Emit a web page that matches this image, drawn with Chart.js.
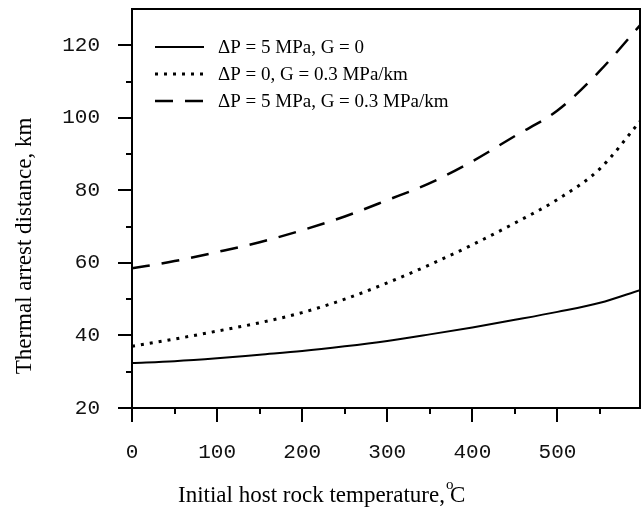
<!DOCTYPE html>
<html>
<head>
<meta charset="utf-8">
<script src="https://cdn.jsdelivr.net/npm/chart.js@4.4.0/dist/chart.umd.min.js"></script>
<style>
  body { margin: 0; background: #fff; }
  #wrap { width: 643px; height: 511px; }
</style>
</head>
<body>
<div id="wrap"><canvas id="chartArrest" width="643" height="511"></canvas></div>
<script>
// temperatures (deg C) where values were read
const temps = [0, 50, 100, 150, 200, 250, 300, 350, 400, 450, 500, 550, 597];

// thermal arrest distance, km
const solidP5G0 = [32.4, 32.9, 33.7, 34.7, 35.7, 37.0, 38.5, 40.3, 42.2, 44.3, 46.5, 49.0, 52.5];
const dotP0G03 = [37.0, 39.0, 41.2, 43.5, 46.3, 50.0, 54.5, 59.5, 65.0, 71.0, 77.5, 86.0, 99.0];
const dashP5G03 = [58.5, 60.5, 63.0, 65.7, 69.0, 72.8, 77.3, 82.0, 88.0, 95.0, 102.0, 113.0, 125.5];

const legendLabels = [
  "\u0394P = 5 MPa, G = 0",
  "\u0394P = 0, G = 0.3 MPa/km",
  "\u0394P = 5 MPa, G = 0.3 MPa/km",
];

const xTickValues = [0, 100, 200, 300, 400, 500];
const yTickValues = [20, 40, 60, 80, 100, 120];

const toPoints = (ys) => ys.map((y, i) => ({ x: temps[i], y: y }));

const monoFont = { family: "'Liberation Mono', 'DejaVu Sans Mono', monospace", size: 21 };
const serif = "'Liberation Serif', 'DejaVu Serif', serif";

// frame, tick marks, axis titles and the legend inside the plot
const decor = {
  id: "decor",
  afterDraw(chart) {
    const ctx = chart.ctx;
    const area = chart.chartArea;
    const xs = chart.scales.x;
    const ys = chart.scales.y;
    ctx.save();
    ctx.strokeStyle = "#000";
    ctx.lineWidth = 2;
    ctx.strokeRect(area.left, area.top, area.right - area.left, area.bottom - area.top);

    for (let v = 20; v <= 120; v += 10) {
      const py = Math.round(ys.getPixelForValue(v));
      const len = v % 20 == 0 ? 14 : 6;
      ctx.beginPath();
      ctx.moveTo(area.left - len, py);
      ctx.lineTo(area.left, py);
      ctx.stroke();
    }
    for (let v = 0; v <= 550; v += 50) {
      const px = Math.round(xs.getPixelForValue(v));
      const len = v % 100 == 0 ? 14 : 6;
      ctx.beginPath();
      ctx.moveTo(px, area.bottom);
      ctx.lineTo(px, area.bottom + len);
      ctx.stroke();
    }

    // axis titles
    ctx.fillStyle = "#000";
    ctx.font = "23px " + serif;
    ctx.textBaseline = "middle";
    ctx.textAlign = "left";
    const xt = "Initial host rock temperature,";
    const xtX = 178;
    ctx.fillText(xt, xtX, 496);
    const w = ctx.measureText(xt).width;
    ctx.font = "15px " + serif;
    ctx.fillText("o", xtX + w + 1, 485);
    ctx.font = "23px " + serif;
    ctx.fillText("C", xtX + w + 5, 496);

    ctx.save();
    ctx.translate(25, 246);
    ctx.rotate(-Math.PI / 2);
    ctx.textAlign = "center";
    ctx.fillText("Thermal arrest distance, km", 0, 0);
    ctx.restore();

    // legend
    const rows = [47, 74, 101];
    chart.data.datasets.forEach((ds, i) => {
      ctx.beginPath();
      ctx.lineWidth = ds.borderWidth;
      ctx.setLineDash(ds.borderDash || []);
      ctx.moveTo(155, rows[i]);
      ctx.lineTo(204, rows[i]);
      ctx.stroke();
      ctx.setLineDash([]);
      ctx.font = "19px " + serif;
      ctx.textAlign = "left";
      ctx.fillText(legendLabels[i], 218, rows[i] + 1);
    });
    ctx.restore();
  },
};

new Chart(document.getElementById("chartArrest"), {
  type: "line",
  data: {
    datasets: [
      {
        label: legendLabels[0],
        data: toPoints(solidP5G0),
        borderColor: "#000",
        borderWidth: 2,
        pointRadius: 0,
        cubicInterpolationMode: "monotone",
      },
      {
        label: legendLabels[1],
        data: toPoints(dotP0G03),
        borderColor: "#000",
        borderWidth: 3,
        borderDash: [3, 6],
        pointRadius: 0,
        cubicInterpolationMode: "monotone",
      },
      {
        label: legendLabels[2],
        data: toPoints(dashP5G03),
        borderColor: "#000",
        borderWidth: 2.5,
        borderDash: [18, 12],
        pointRadius: 0,
        cubicInterpolationMode: "monotone",
      },
    ],
  },
  options: {
    responsive: false,
    animation: false,
    layout: { padding: { top: 9, right: 3, left: 0, bottom: 0 } },
    plugins: {
      legend: { display: false },
      tooltip: { enabled: false },
    },
    scales: {
      x: {
        type: "linear",
        min: 0,
        max: 597,
        grid: { display: false, drawTicks: false },
        border: { display: false },
        ticks: { font: monoFont, color: "#111", padding: 32, maxRotation: 0 },
        afterBuildTicks: (scale) => {
          scale.ticks = xTickValues.map((v) => ({ value: v }));
        },
        afterFit: (scale) => {
          scale.height = 103;
          scale.paddingLeft = 0;
          scale.paddingRight = 0;
        },
      },
      y: {
        min: 20,
        max: 130,
        grid: { display: false, drawTicks: false },
        border: { display: false },
        ticks: { font: monoFont, color: "#111", padding: 32 },
        afterBuildTicks: (scale) => {
          scale.ticks = yTickValues.map((v) => ({ value: v }));
        },
        afterFit: (scale) => {
          scale.width = 132;
          scale.paddingTop = 0;
          scale.paddingBottom = 0;
        },
      },
    },
  },
  plugins: [decor],
});
</script>
</body>
</html>
